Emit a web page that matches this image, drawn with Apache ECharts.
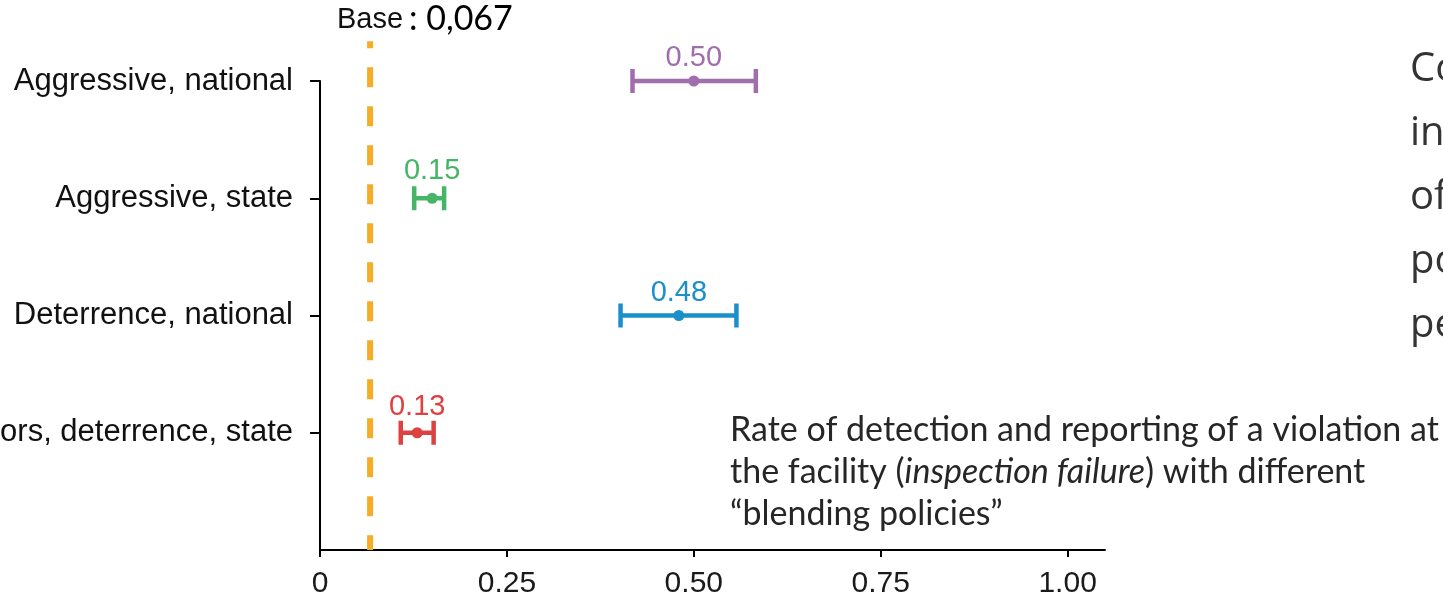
<!DOCTYPE html>
<html>
<head>
<meta charset="utf-8">
<script src="https://cdn.jsdelivr.net/npm/echarts@6/dist/echarts.min.js"></script>
<style>
html,body{margin:0;padding:0;background:#fff;}
#chart{width:1443px;height:595px;}
</style>
</head>
<body>
<div id="chart"></div>
<script>
// ---- data ----
const policies = ['Aggressive, national', 'Aggressive, state', 'Deterrence, national', 'Inspectors, deterrence, state'];
const estimates = [0.50, 0.15, 0.48, 0.13];
const lower = [0.418, 0.126, 0.402, 0.108];
const upper = [0.583, 0.166, 0.557, 0.152];
const estimateLabels = ['0.50', '0.15', '0.48', '0.13'];
const baseRate = 0.067;
const baseLabel = 'Base';
const baseValueText = ': 0,067';
const xTicks = [0, 0.25, 0.5, 0.75, 1.0];
const xTickLabels = ['0', '0.25', '0.50', '0.75', '1.00'];
const yTicks = [1, 2, 3, 4];

// ---- styles ----
const colors = ['#a06dad', '#47b566', '#1b8fca', '#dd4140'];
const labelOffsets = [-23, -27, -23, -26];

const chart = echarts.init(document.getElementById('chart'), null, {renderer: 'canvas'});

const seriesData = policies.map((p, i) => [policies.length - i, lower[i], estimates[i], upper[i], i]);

const option = {
  animation: false,
  backgroundColor: '#ffffff',
  grid: {left: 320, right: 338, top: 81, bottom: 45, containLabel: false, outerBoundsMode: 'none'},
  xAxis: {
    type: 'value', min: 0, max: 1.05,
    axisLine: {show: true, onZero: false, lineStyle: {color: '#000', width: 2}},
    axisTick: {show: true, customValues: xTicks, length: 7, lineStyle: {color: '#000', width: 2}},
    axisLabel: {
      customValues: xTicks, margin: 19,
      fontFamily: 'Liberation Sans', fontSize: 30, color: '#1a1a1a',
      formatter: v => { const k = xTicks.findIndex(t => Math.abs(t - v) < 1e-9); return k >= 0 ? xTickLabels[k] : ''; }
    },
    splitLine: {show: false}
  },
  yAxis: {
    type: 'value', min: 0, max: 4,
    axisLine: {show: true, onZero: false, lineStyle: {color: '#000', width: 2}},
    axisTick: {show: true, customValues: yTicks, length: 10, lineStyle: {color: '#000', width: 2}},
    axisLabel: {
      customValues: yTicks, margin: 27,
      fontFamily: 'Liberation Sans', fontSize: 31, color: '#111',
      formatter: v => { const idx = policies.length - Math.round(v); return policies[idx] || ''; }
    },
    splitLine: {show: false}
  },
  series: [
    {
      type: 'line',
      clip: false,
      silent: true,
      symbol: 'none',
      data: [[baseRate, 4.34], [baseRate, 0]],
      lineStyle: {color: '#f5ad27', width: 6, type: [20, 19], dashOffset: 13, cap: 'butt'},
      z: 1
    },
    {
      type: 'custom',
      clip: false,
      silent: true,
      encode: {x: [1, 2, 3], y: 0},
      data: seriesData,
      renderItem: function (params, api) {
        const y = api.value(0);
        const i = api.value(4);
        const lo = api.coord([api.value(1), y]);
        const mid = api.coord([api.value(2), y]);
        const hi = api.coord([api.value(3), y]);
        const c = colors[i];
        const h = 12;
        return {
          type: 'group',
          children: [
            {type: 'line', shape: {x1: lo[0], y1: lo[1], x2: hi[0], y2: hi[1]}, style: {stroke: c, lineWidth: 4.5}},
            {type: 'line', shape: {x1: lo[0], y1: lo[1] - h, x2: lo[0], y2: lo[1] + h}, style: {stroke: c, lineWidth: 4.5}},
            {type: 'line', shape: {x1: hi[0], y1: hi[1] - h, x2: hi[0], y2: hi[1] + h}, style: {stroke: c, lineWidth: 4.5}},
            {type: 'circle', shape: {cx: mid[0], cy: mid[1], r: 5.5}, style: {fill: c}},
            {type: 'text', x: mid[0], y: mid[1] + labelOffsets[i], style: {
              text: estimateLabels[i], fill: c, fontFamily: 'Liberation Sans', fontSize: 29,
              align: 'center', verticalAlign: 'middle'
            }}
          ]
        };
      },
      z: 3
    }
  ],
  graphic: [
    {type: 'text', left: 337, top: 5, style: {text: baseLabel, fontFamily: 'Liberation Sans', fontSize: 29, fill: '#111'}},
    {type: 'text', left: 409, top: 2, style: {text: baseValueText, fontFamily: 'Lato', fontSize: 34, fill: '#000'}},
    {type: 'text', left: 730, top: 409, style: {
      text: 'Rate of detection and reporting of a violation at\nthe facility ({i|inspection failure}) with different\n\u201cblending policies\u201d',
      fontFamily: 'Lato', fontSize: 34, lineHeight: 42, fill: '#262626',
      rich: {i: {fontStyle: 'italic', fontFamily: 'Lato', fontSize: 34, lineHeight: 42, fill: '#262626'}}
    }},
    {type: 'text', left: 1410, top: 38, style: {
      text: 'Comparing the\ninfluence\nof blending\npolicies on\nperformance',
      fontFamily: 'Open Sans', fontWeight: 400, fontSize: 40, lineHeight: 64, fill: '#333333'
    }}
  ]
};
chart.setOption(option);
</script>
</body>
</html>
